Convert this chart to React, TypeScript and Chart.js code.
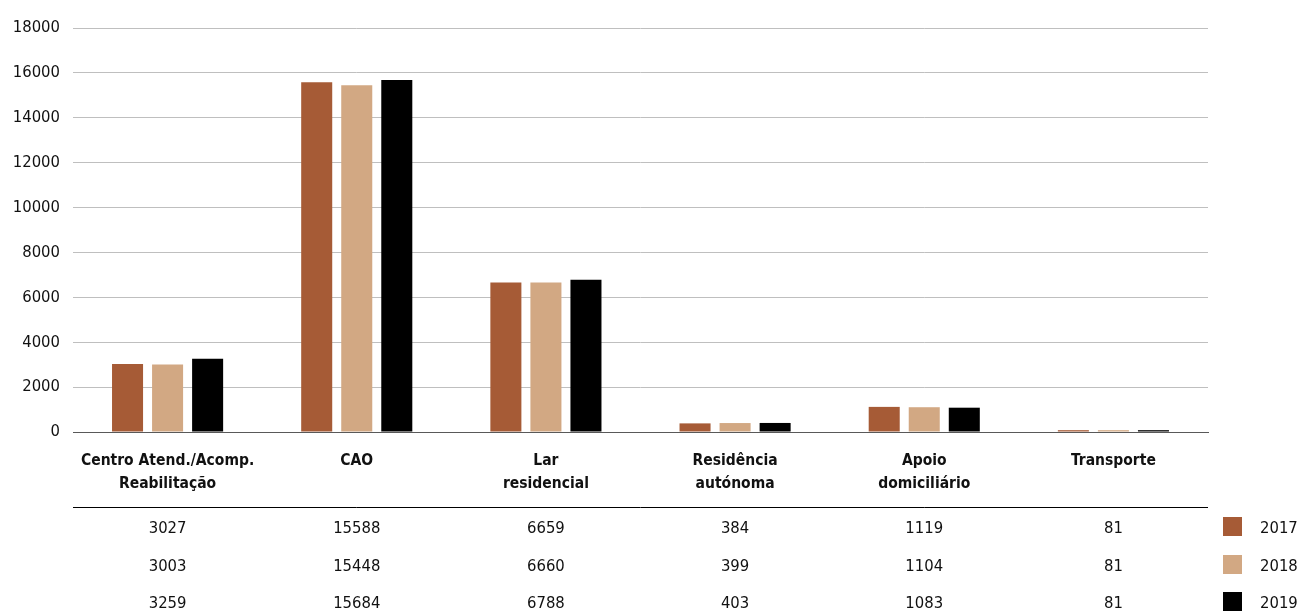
import React, { useEffect, useRef } from "react";
import { Chart, registerables } from "chart.js";

Chart.register(...registerables);

const categories: string[][] = [
  ["Centro Atend./Acomp.", "Reabilitação"],
  ["CAO"],
  ["Lar", "residencial"],
  ["Residência", "autónoma"],
  ["Apoio", "domiciliário"],
  ["Transporte"],
];
const seriesLabels = ["2017", "2018", "2019"];
const values2017 = [3027, 15588, 6659, 384, 1119, 81];
const values2018 = [3003, 15448, 6660, 399, 1104, 81];
const values2019 = [3259, 15684, 6788, 403, 1083, 81];
const seriesColors = ["#a65b36", "#d2a883", "#000000"];
const yTicks = [0, 2000, 4000, 6000, 8000, 10000, 12000, 14000, 16000, 18000];

const FONT = "'DejaVu Sans Condensed', 'Liberation Sans Narrow', sans-serif";

const tablePlugin = {
  id: "tablePlugin",
  afterDraw(chart: any) {
    const ctx = chart.ctx;
    const x = chart.scales.x;
    const area = chart.chartArea;
    const lineY = 507;
    ctx.save();
    ctx.strokeStyle = "#000";
    ctx.lineWidth = 1;
    ctx.beginPath();
    ctx.moveTo(area.left, lineY + 0.5);
    ctx.lineTo(area.right, lineY + 0.5);
    ctx.stroke();
    const rows = [values2017, values2018, values2019];
    const rowY = [529, 567, 604];
    ctx.font = `16.5px ${FONT}`;
    ctx.fillStyle = "#111";
    ctx.textBaseline = "middle";
    rows.forEach((row, ri) => {
      ctx.textAlign = "center";
      row.forEach((v, ci) => {
        ctx.fillText(String(v), x.getPixelForValue(ci), rowY[ri]);
      });
      ctx.fillStyle = seriesColors[ri];
      ctx.fillRect(1223, rowY[ri] - 12, 19, 19);
      ctx.fillStyle = "#111";
      ctx.textAlign = "left";
      ctx.fillText(seriesLabels[ri], 1260, rowY[ri]);
    });
    ctx.restore();
  },
};

export default function App() {
  const ref = useRef<HTMLCanvasElement>(null);
  useEffect(() => {
    if (!ref.current) return;
    const chart = new Chart(ref.current, {
      type: "bar",
      data: {
        labels: categories as any,
        datasets: [values2017, values2018, values2019].map((d, i) => ({
          label: seriesLabels[i],
          data: d,
          backgroundColor: seriesColors[i],
          categoryPercentage: 0.635,
          barPercentage: 0.775,
        })),
      },
      options: {
        animation: false,
        responsive: false,
        maintainAspectRatio: false,
        layout: { padding: { top: 28, right: 91, bottom: 109, left: 0 } },
        plugins: { legend: { display: false }, tooltip: { enabled: false } },
        scales: {
          x: {
            grid: { display: false, drawTicks: false },
            border: { display: true, color: "#595959", width: 1 },
            ticks: {
              color: "#111",
              font: { family: FONT, size: 15.5, weight: "bold", lineHeight: 1.45 },
              padding: 18,
              maxRotation: 0,
              autoSkip: false,
            },
            afterFit(scale: any) {
              scale.height = 75;
            },
          },
          y: {
            min: 0,
            max: 18000,
            afterBuildTicks(scale: any) {
              scale.ticks = yTicks.map((v) => ({ value: v }));
            },
            grid: {
              color: (c: any) => (c.tick && c.tick.value === 0 ? "#595959" : "#bfbfbf"),
              drawTicks: false,
            },
            border: { display: false },
            ticks: {
              color: "#111",
              font: { family: FONT, size: 16.5 },
              padding: 13,
              callback: (v: any) => String(v),
            },
            afterFit(scale: any) {
              scale.width = 73;
            },
          },
        },
      },
      plugins: [tablePlugin],
    });
    return () => chart.destroy();
  }, []);
  return (
    <div style={{ position: "fixed", left: 0, top: 0, width: 1299, height: 616, background: "#fff" }}>
      <canvas ref={ref} width={1299} height={616} style={{ width: 1299, height: 616 }} />
    </div>
  );
}
